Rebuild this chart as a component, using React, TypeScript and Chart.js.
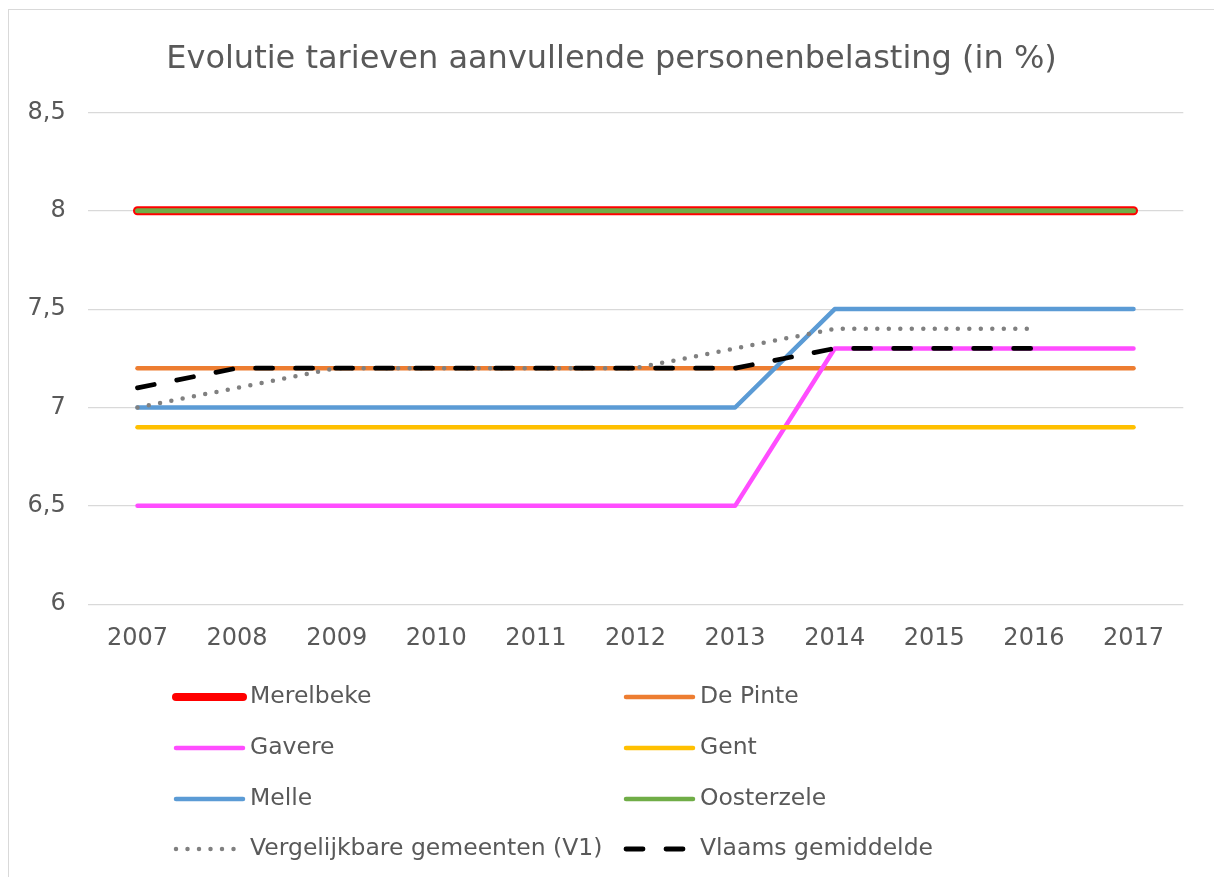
import React, { useEffect, useRef } from "react";
import { Chart, registerables } from "chart.js";

Chart.register(...registerables);

const years = ["2007", "2008", "2009", "2010", "2011", "2012", "2013", "2014", "2015", "2016", "2017"];
const merelbeke = [8, 8, 8, 8, 8, 8, 8, 8, 8, 8, 8];
const dePinte = [7.2, 7.2, 7.2, 7.2, 7.2, 7.2, 7.2, 7.2, 7.2, 7.2, 7.2];
const gavere = [6.5, 6.5, 6.5, 6.5, 6.5, 6.5, 6.5, 7.3, 7.3, 7.3, 7.3];
const gent = [6.9, 6.9, 6.9, 6.9, 6.9, 6.9, 6.9, 6.9, 6.9, 6.9, 6.9];
const melle = [7, 7, 7, 7, 7, 7, 7, 7.5, 7.5, 7.5, 7.5];
const oosterzele = [8, 8, 8, 8, 8, 8, 8, 8, 8, 8, 8];
const vergelijkbare = [7.0, 7.1, 7.2, 7.2, 7.2, 7.2, 7.3, 7.4, 7.4, 7.4, null];
const vlaams = [7.1, 7.2, 7.2, 7.2, 7.2, 7.2, 7.2, 7.3, 7.3, 7.3, null];
const yTicks = [6, 6.5, 7, 7.5, 8, 8.5];
const title = "Evolutie tarieven aanvullende personenbelasting (in %)";

const FONT = '"DejaVu Sans", Verdana, sans-serif';
const TEXT = "#595959";

const legendPlugin = {
  id: "twoColumnLegend",
  afterDraw(chart: any) {
    const ctx = chart.ctx;
    const cols = [164, 614];
    const rows = [687, 738, 789, 839];
    chart.data.datasets.forEach((ds: any, i: number) => {
      const x = cols[i % 2];
      const y = rows[Math.floor(i / 2)];
      ctx.save();
      ctx.strokeStyle = ds.legendColor || ds.borderColor;
      ctx.lineWidth = ds.legendWidth || ds.borderWidth;
      ctx.lineCap = "round";
      ctx.setLineDash(ds.borderDash || []);
      ctx.beginPath();
      ctx.moveTo(x + 3, y);
      ctx.lineTo(x + 70, y);
      ctx.stroke();
      ctx.setLineDash([]);
      ctx.fillStyle = TEXT;
      ctx.font = `23.5px ${FONT}`;
      ctx.textBaseline = "middle";
      ctx.textAlign = "left";
      ctx.fillText(ds.label, x + 77, y);
      ctx.restore();
    });
  },
};

export default function App() {
  const ref = useRef<HTMLCanvasElement | null>(null);

  useEffect(() => {
    if (!ref.current) return;
    const mk = (label: string, data: any[], color: string, width: number, extra: any = {}) => ({
      label,
      data,
      borderColor: color,
      backgroundColor: color,
      borderWidth: width,
      pointRadius: 0,
      pointHoverRadius: 0,
      fill: false,
      tension: 0,
      borderCapStyle: "round",
      borderJoinStyle: "round",
      ...extra,
    });
    const datasets: any[] = [
      mk("Merelbeke", merelbeke, "#FF0000", 9, { legendWidth: 8 }),
      mk("De Pinte", dePinte, "#ED7D31", 4.5),
      mk("Gavere", gavere, "#FF4DFF", 4.5),
      mk("Gent", gent, "#FFC000", 4.5),
      mk("Melle", melle, "#5B9BD5", 4.5),
      mk("Oosterzele", oosterzele, "#70AD47", 5, { legendWidth: 4.5 }),
      mk("Vergelijkbare gemeenten (V1)", vergelijkbare, "#808080", 4.5, { borderDash: [0, 11.5] }),
      mk("Vlaams gemiddelde", vlaams, "#000000", 4.8, { borderDash: [17, 23] }),
    ];
    datasets.forEach((d, i) => (d.order = datasets.length - i));

    const chart = new Chart(ref.current, {
      type: "line",
      data: { labels: years, datasets },
      options: {
        animation: false,
        responsive: false,
        devicePixelRatio: 1,
        layout: { padding: { left: 0, right: 0, top: 0, bottom: 204 } },
        plugins: {
          legend: { display: false },
          tooltip: { enabled: false },
          title: {
            display: true,
            text: title,
            color: TEXT,
            font: { family: FONT, size: 32, weight: "normal" },
            padding: { top: 30, bottom: 34 },
          },
        },
        scales: {
          x: {
            offset: true,
            grid: { display: false, drawTicks: false },
            border: { display: false },
            ticks: { color: TEXT, font: { family: FONT, size: 24 }, padding: 20, maxRotation: 0, autoSkip: false },
          },
          y: {
            min: 6,
            max: 8.5,
            afterBuildTicks: (s: any) => {
              s.ticks = yTicks.map((v) => ({ value: v }));
            },
            afterFit: (s: any) => {
              s.width = 78.7;
            },
            grid: { color: "#D9D9D9", lineWidth: 1.2, drawTicks: false },
            border: { display: false },
            ticks: {
              color: TEXT,
              font: { family: FONT, size: 24 },
              padding: 22,
              callback: (v: any) => String(v).replace(".", ","),
            },
          },
          yRight: {
            position: "right",
            min: 6,
            max: 8.5,
            afterFit: (s: any) => {
              s.width = 30.7;
            },
            grid: { display: false, drawTicks: false },
            border: { display: false },
            ticks: { display: false },
          },
        },
      },
      plugins: [legendPlugin],
    } as any);
    return () => chart.destroy();
  }, []);

  return (
    <div
      style={{
        position: "absolute",
        left: 8,
        top: 9,
        width: 1206,
        height: 868,
        borderLeft: "1px solid #D9D9D9",
        borderTop: "1px solid #D9D9D9",
        boxSizing: "border-box",
        background: "#fff",
      }}
    >
      <canvas ref={ref} width={1205} height={867} style={{ display: "block", width: 1205, height: 867 }} />
    </div>
  );
}
